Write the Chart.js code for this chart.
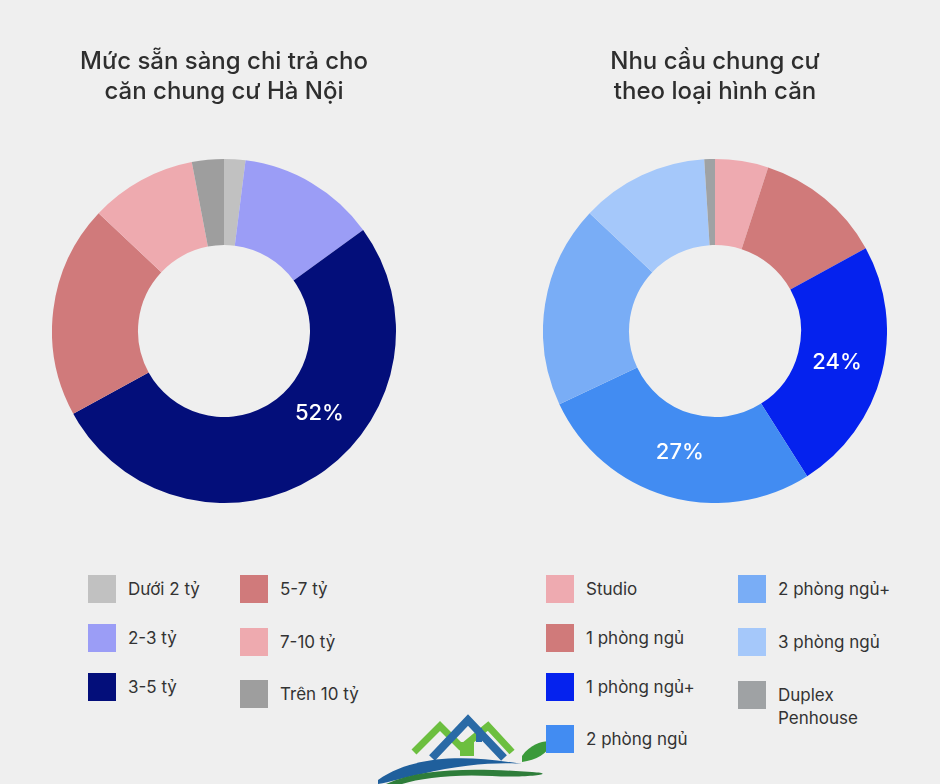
<!DOCTYPE html>
<html lang="vi">
<head>
<meta charset="utf-8">
<script src="https://cdn.jsdelivr.net/npm/chart.js@4.4.1/dist/chart.umd.min.js"></script>
<style>
  body { margin: 0; background: #efefef; font-family: Inter, "Noto Sans", sans-serif; }
  #trang { position: relative; width: 940px; height: 784px; overflow: hidden; background: #efefef; }
  canvas { position: absolute; }
  .chu-giai { position: absolute; display: flex; align-items: center; font-size: 17px; color: #333; line-height: 23px; }
  .chu-giai span.o { width: 28px; height: 28px; margin-right: 12px; flex: none; }
  .chu-giai.hai-dong { align-items: flex-start; }
  .chu-giai.hai-dong span.o { margin-top: 0; }
  .chu-giai.hai-dong span.t { margin-top: 3px; }
  #logo { position: absolute; left: 372px; top: 712px; }
</style>
</head>
<body>
<div id="trang">
  <canvas id="bieuDoTrai" width="344" height="463" style="left:52px;top:40px"></canvas>
  <canvas id="bieuDoPhai" width="344" height="463" style="left:543px;top:40px"></canvas>
  <svg id="logo" width="195" height="72" viewBox="0 0 195 72">
    <polyline points="42,40 68,14 90,36" fill="none" stroke="#6cbf3f" stroke-width="7" stroke-linejoin="miter"/>
    <polyline points="92,34 116,14 140,40" fill="none" stroke="#6cbf3f" stroke-width="7" stroke-linejoin="miter"/>
    <polyline points="60,46 96,8 132,46" fill="none" stroke="#2a6aa6" stroke-width="8" stroke-linejoin="miter"/>
    <rect x="104" y="16" width="6" height="14" fill="#2a6aa6"/>
    <rect x="88" y="30" width="14" height="14" fill="#6cbf3f"/>
    <path d="M6,68 C40,44 90,42 150,52 C130,50 90,52 50,62 C30,66 18,70 6,72 Z" fill="#1f5f9c"/>
    <path d="M14,72 C50,56 100,56 160,60 C190,62 150,66 120,64 C80,62 50,66 30,72 Z" fill="#2e7d3a"/>
    <path d="M150,44 C160,30 175,28 180,30 C176,42 164,48 150,50 Z" fill="#3a9a3a"/>
  </svg>
</div>
<script>
// du lieu bieu do trai
var nhanTrai = ['Dưới 2 tỷ', '2-3 tỷ', '3-5 tỷ', '5-7 tỷ', '7-10 tỷ', 'Trên 10 tỷ'];
var giaTriTrai = [2, 13, 52, 20, 10, 3];
var mauTrai = ['#c1c1c1', '#9b9df6', '#030e7a', '#d07a7b', '#eeaaaf', '#9e9e9e'];

// du lieu bieu do phai
var nhanPhai = ['Studio', '1 phòng ngủ', '1 phòng ngủ+', '2 phòng ngủ', '2 phòng ngủ+', '3 phòng ngủ', 'Duplex Penhouse'];
var giaTriPhai = [5, 12, 24, 27, 19, 12, 1];
var mauPhai = ['#eeaab0', '#d07a7a', '#0522ee', '#428cf2', '#79adf6', '#a5c8fa', '#9fa2a4'];

// chi hien so % o mot so lat
var hienTrai = [2];
var hienPhai = [2, 3];

var mauChu = '#2e2e2e';

// plugin ve % len lat
var nhanPhanTram = {
    id: 'nhanPhanTram',
    afterDatasetsDraw: function(chart, args, opts){
        var ctx = chart.ctx;
        var meta = chart.getDatasetMeta(0);
        var data = chart.data.datasets[0].data;
        ctx.save();
        ctx.fillStyle = '#ffffff';
        ctx.font = '500 22px Inter, "Noto Sans", sans-serif';
        ctx.textAlign = 'center';
        ctx.textBaseline = 'middle';
        opts.chiSo.forEach(function(i){
            var arc = meta.data[i];
            var p = arc.getProps(['x', 'y', 'startAngle', 'endAngle', 'innerRadius', 'outerRadius'], true);
            var tiLe = (opts.tiLe && opts.tiLe[i] != null) ? opts.tiLe[i] : 0.5;
            var goc = p.startAngle + (p.endAngle - p.startAngle) * tiLe;
            var r = (p.innerRadius + p.outerRadius) / 2 - 3;
            ctx.fillText(data[i] + '%', p.x + Math.cos(goc) * r, p.y + Math.sin(goc) * r);
        });
        ctx.restore();
    }
};

function veBieuDo(id, tieuDe, nhan, giaTri, mau, chiSo, tiLe){
    return new Chart(document.getElementById(id), {
        type: 'doughnut',
        data: {
            labels: nhan,
            datasets: [{
                data: giaTri,
                backgroundColor: mau,
                borderWidth: 0
            }]
        },
        options: {
            responsive: false,
            animation: false,
            cutout: '50%',
            plugins: {
                legend: { display: false },
                tooltip: { enabled: false },
                title: {
                    display: true,
                    text: tieuDe,
                    color: mauChu,
                    font: { family: 'Inter, "Noto Sans", sans-serif', size: 24, weight: '500', lineHeight: 30 / 24 },
                    padding: { top: 7, bottom: 52 }
                },
                nhanPhanTram: { chiSo: chiSo, tiLe: tiLe }
            }
        },
        plugins: [nhanPhanTram]
    });
}

veBieuDo('bieuDoTrai', ['Mức sẵn sàng chi trả cho', 'căn chung cư Hà Nội'], nhanTrai, giaTriTrai, mauTrai, hienTrai, { 2: 0.41 });
veBieuDo('bieuDoPhai', ['Nhu cầu chung cư', 'theo loại hình căn'], nhanPhai, giaTriPhai, mauPhai, hienPhai, {});

// chu giai
var trang = document.getElementById('trang');
function themChuGiai(nhan, mau, viTri){
    nhan.forEach(function(t, i){
        var d = document.createElement('div');
        d.className = 'chu-giai';
        d.style.left = viTri[i][0] + 'px';
        d.style.top = viTri[i][1] + 'px';
        var o = document.createElement('span');
        o.className = 'o';
        o.style.background = mau[i];
        var chu = document.createElement('span');
        chu.className = 't';
        if (t.indexOf('Duplex ') == 0) {
            d.className += ' hai-dong';
            chu.innerHTML = t.replace('Duplex ', 'Duplex<br>');
        } else {
            chu.textContent = t;
        }
        d.appendChild(o);
        d.appendChild(chu);
        trang.appendChild(d);
    });
}
themChuGiai(nhanTrai, mauTrai, [[88, 575], [88, 624], [88, 673], [240, 575], [240, 628], [240, 680]]);
themChuGiai(nhanPhai, mauPhai, [[546, 575], [546, 624], [546, 673], [546, 725], [738, 575], [738, 628], [738, 681]]);
</script>
</body>
</html>
